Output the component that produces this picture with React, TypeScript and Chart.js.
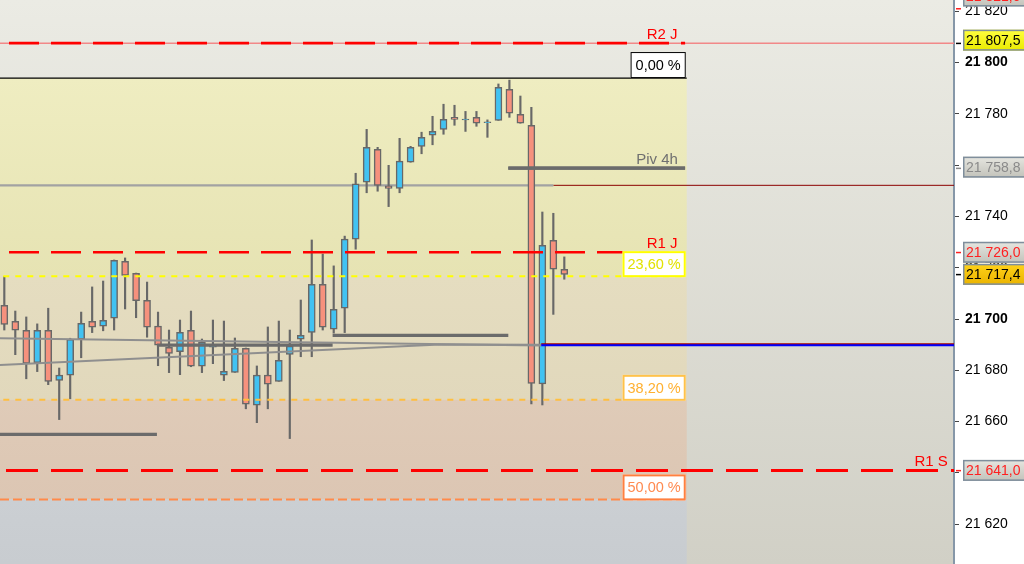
import React, { useEffect, useRef } from "react";
import { Chart, registerables } from "chart.js";

Chart.register(...registerables);

// ---------------- data ----------------
const opens = [21705.3, 21699.1, 21695.6, 21683.0, 21695.6, 21676.1, 21678.1, 21692.1, 21699.1, 21697.2,
  21700.3, 21722.5, 21717.8, 21707.3, 21697.2, 21689.0, 21687.3, 21695.6, 21681.6, 21689.0,
  21678.1, 21679.2, 21688.6, 21666.4, 21678.1, 21675.7, 21686.2, 21692.1, 21694.8, 21713.5,
  21696.0, 21704.2, 21731.1, 21753.3, 21766.1, 21751.9, 21750.9, 21761.1, 21767.3, 21771.6,
  21773.9, 21778.6, 21777.6, 21778.6, 21776.5, 21777.4, 21789.5, 21779.8, 21775.5, 21674.7,
  21730.7, 21719.4];
const highs = [21716.5, 21703.1, 21700.8, 21698.1, 21704.2, 21680.9, 21692.5, 21702.7, 21712.5, 21714.8,
  21723.0, 21723.8, 21717.9, 21714.4, 21702.7, 21695.7, 21699.6, 21703.1, 21692.2, 21699.6,
  21699.2, 21692.6, 21688.7, 21681.7, 21696.9, 21699.2, 21695.7, 21707.4, 21730.8, 21725.3,
  21720.7, 21732.3, 21756.8, 21773.9, 21766.9, 21759.9, 21770.4, 21767.3, 21772.8, 21779.0,
  21783.7, 21783.3, 21780.9, 21780.9, 21777.6, 21791.6, 21793.1, 21786.9, 21782.5, 21741.7,
  21741.2, 21724.2];
const lows = [21695.7, 21686.1, 21676.7, 21679.5, 21674.4, 21660.8, 21668.9, 21684.9, 21694.7, 21695.4,
  21695.7, 21703.9, 21700.5, 21692.9, 21681.8, 21679.1, 21678.3, 21681.4, 21679.1, 21682.6,
  21676.0, 21679.2, 21665.0, 21659.6, 21665.0, 21675.7, 21653.4, 21685.3, 21685.3, 21695.7,
  21694.5, 21694.7, 21727.2, 21749.2, 21749.8, 21743.8, 21749.2, 21761.1, 21764.4, 21767.9,
  21772.0, 21775.5, 21773.1, 21775.1, 21770.8, 21777.4, 21778.6, 21776.3, 21666.9, 21666.5,
  21701.8, 21715.5];
const closes = [21697.9, 21695.6, 21682.7, 21695.6, 21675.7, 21678.1, 21692.1, 21698.3, 21696.8, 21699.5,
  21722.9, 21717.0, 21707.1, 21696.8, 21689.8, 21686.6, 21694.8, 21681.6, 21690.9, 21689.4,
  21679.6, 21688.6, 21666.8, 21678.1, 21674.6, 21683.9, 21689.4, 21693.6, 21713.5, 21696.8,
  21703.8, 21731.1, 21752.7, 21766.9, 21752.1, 21750.9, 21761.5, 21766.9, 21770.8, 21773.1,
  21777.8, 21777.8, 21777.9, 21776.3, 21776.8, 21790.3, 21780.2, 21776.3, 21674.9, 21728.7,
  21719.4, 21717.4];

const tickValues = [21620, 21640, 21660, 21680, 21700, 21720, 21740, 21760, 21780, 21800, 21820];

const fibValues = [21793.9, 21716.7, 21668.5, 21629.7];
const fibLabels = ["0,00 %", "23,60 %", "38,20 %", "50,00 %"];

const levelNames = ["R2 J", "R1 J", "R1 S", "Piv 4h"];
const levelValues = [21807.5, 21726.0, 21641.0, 21758.8];

const pivotStarts = [-0.392, 13.9, 29.9, 45.9];
const pivotEnds = [13.9, 29.9, 45.9, 62.0];
const pivotValues = [21655.0, 21689.8, 21693.6, 21758.8];

const trendAIdx = [-0.392, 48.9];
const trendAVals = [21692.5, 21689.7];
const trendBIdx = [-0.392, 39.7, 48.9];
const trendBVals = [21682.1, 21690.1, 21690.0];

const grayLevel = 21752.1;
const grayLevelEndIdx = 50.0;
const blueLevel = 21689.85;
const blueStartIdx = 48.9;

const priceTagValues = [21821.0, 21807.5, 21758.8, 21726.0, 21717.4, 21641.0];
const priceTagTexts = ["21 821,0", "21 807,5", "21 758,8", "21 726,0", "21 717,4", "21 641,0"];

// ---------------- layout / style ----------------
const X_MIN = -0.392;
const X_MAX = 86.49;
const Y_MIN = 21604.52;
const Y_MAX = 21824.32;
const FIB_END = 62.15;
const LEVEL_LINE_END = [62.0, 62.0, X_MAX, 62.0];
const LEVEL_LABEL_RIGHT = [61.31, 61.31, 85.92, 61.35];
const LEVEL_LABEL_COLORS = ["#ff0000", "#ff0000", "#ff0000", "#707070"];
const FIB_LINE_COLORS = ["#000000", "#ffff00", "#ffbf3f", "#ff8a4a"];
const FIB_TEXT_COLORS = ["#000000", "#e2e200", "#ffb030", "#ff8a50"];
const FIB_BORDER_COLORS = ["#000000", "#ffff00", "#ffc24a", "#ff8040"];
const TAG_TEXT_COLORS = ["#ff2020", "#000000", "#8a8a8a", "#ff2020", "#000000", "#ff2020"];
const TAG_FILLS = [
  ["#e6e6e0", "#c2c2ba"],
  ["#ffff40", "#eaea00"],
  ["#e6e6e0", "#c2c2ba"],
  ["#e6e6e0", "#c2c2ba"],
  ["#ffd21a", "#eab300"],
  ["#e6e6e0", "#c2c2ba"],
];
const TAG_OFFSETS = [-12.5, -3, -1, 0, 0, 0];
const FONT = '"Liberation Sans", Arial, sans-serif';
const BULL = "#41c2f2";
const BEAR = "#f6917d";
const OUTLINE = "#686868";

const fmtTick = (v: number) => {
  const t = Math.floor(v / 1000);
  const r = Math.round(v - t * 1000);
  return `${t} ${String(r).padStart(3, "0")}`;
};

const pts = (xa: number[], ya: number[]) => xa.map((x, i) => ({ x, y: ya[i] }));

const lineDs = (label: string, data: any[], color: string, width: number, order: number, dash?: number[], dashOffset?: number) => ({
  type: "line" as const,
  label,
  data,
  borderColor: color,
  backgroundColor: color,
  borderWidth: width,
  borderDash: dash || [],
  borderDashOffset: dashOffset || 0,
  pointRadius: 0,
  pointHoverRadius: 0,
  fill: false,
  tension: 0,
  spanGaps: false,
  order,
});

const backgroundPlugin = {
  id: "bgZones",
  beforeDraw(chart: any) {
    const { ctx, chartArea: ca, scales } = chart;
    const ys = scales.y;
    const xs = scales.x;
    ctx.save();
    ctx.fillStyle = "#ffffff";
    ctx.fillRect(0, 0, chart.width, chart.height);
    const g = ctx.createLinearGradient(0, ca.top, 0, ca.bottom);
    g.addColorStop(0, "#ebebe4");
    g.addColorStop(1, "#d1d0c6");
    ctx.fillStyle = g;
    ctx.fillRect(ca.left, ca.top, ca.right - ca.left, ca.bottom - ca.top);
    const xr = xs.getPixelForValue(FIB_END);
    const yF = fibValues.map((v) => ys.getPixelForValue(v));
    const bands = [
      [yF[0], yF[1], "#efedc1", "#e6e3b3"],
      [yF[1], yF[2], "#e5ddc0", "#e1d8bc"],
      [yF[2], yF[3], "#dfcbb8", "#dcc6b3"],
      [yF[3], ca.bottom, "#cbcfd3", "#c8ccd0"],
    ] as any[];
    for (const [a, b, c1, c2] of bands) {
      const gg = ctx.createLinearGradient(0, a, 0, b);
      gg.addColorStop(0, c1);
      gg.addColorStop(1, c2);
      ctx.fillStyle = gg;
      ctx.fillRect(ca.left, a, xr - ca.left, b - a);
    }
    ctx.restore();
  },
};

const labelPlugin = {
  id: "levelLabels",
  afterDatasetsDraw(chart: any) {
    const { ctx, scales } = chart;
    const xs = scales.x;
    const ys = scales.y;
    ctx.save();
    ctx.font = `15px ${FONT}`;
    ctx.textAlign = "right";
    ctx.textBaseline = "alphabetic";
    levelNames.forEach((name, k) => {
      ctx.fillStyle = LEVEL_LABEL_COLORS[k];
      ctx.fillText(name, xs.getPixelForValue(LEVEL_LABEL_RIGHT[k]), ys.getPixelForValue(levelValues[k]) - 4);
    });
    const xr = xs.getPixelForValue(FIB_END) - 1;
    ctx.font = `14.5px ${FONT}`;
    fibLabels.forEach((txt, k) => {
      const y = ys.getPixelForValue(fibValues[k]);
      const w = ctx.measureText(txt).width + 10;
      const h = 26;
      const bw = k === 0 ? 1 : 2;
      const top = y - h + (k === 0 ? 0 : 1);
      ctx.fillStyle = "#ffffff";
      ctx.fillRect(xr - w, top, w, h);
      ctx.strokeStyle = FIB_BORDER_COLORS[k];
      ctx.lineWidth = bw;
      ctx.strokeRect(xr - w + bw / 2, top + bw / 2, w - bw, h - bw);
      ctx.fillStyle = FIB_TEXT_COLORS[k];
      ctx.textAlign = "left";
      ctx.textBaseline = "middle";
      ctx.fillText(txt, xr - w + 5, top + h / 2 + 1);
    });
    ctx.restore();
  },
  afterDraw(chart: any) {
    const { ctx, scales, chartArea: ca } = chart;
    const ys = scales.y;
    ctx.save();
    ctx.font = `14px ${FONT}`;
    ctx.textBaseline = "middle";
    ctx.textAlign = "left";
    priceTagValues.forEach((v, k) => {
      const yc = ys.getPixelForValue(v) + TAG_OFFSETS[k];
      const top = yc - 10.5;
      const left = ca.right + 9;
      const g = ctx.createLinearGradient(0, top, 0, top + 21);
      g.addColorStop(0, TAG_FILLS[k][0]);
      g.addColorStop(1, TAG_FILLS[k][1]);
      ctx.fillStyle = g;
      ctx.fillRect(left, top, chart.width - left + 2, 21);
      ctx.strokeStyle = "#7f8e9c";
      ctx.lineWidth = 1.5;
      ctx.strokeRect(left + 0.75, top + 0.75, chart.width - left + 4, 19.5);
      ctx.fillStyle = TAG_TEXT_COLORS[k];
      ctx.fillText(priceTagTexts[k], left + 3, yc + 1);
      ctx.fillRect(ca.right + 2, ys.getPixelForValue(v) - 0.5, 5, 1.5);
    });
    ctx.restore();
  },
};

export default function App() {
  const ref = useRef<HTMLCanvasElement | null>(null);

  useEffect(() => {
    if (!ref.current) return;
    Chart.defaults.font.family = FONT;

    const idx = opens.map((_, i) => i);
    const wickData = idx.map((i) => ({ x: i, y: [lows[i], highs[i]] }));
    const bodyData = idx.map((i) => ({ x: i, y: [opens[i], closes[i]] }));
    const bodyColors = idx.map((i) => (closes[i] >= opens[i] ? BULL : BEAR));

    const pivotData: any[] = [];
    pivotValues.forEach((v, k) => {
      pivotData.push({ x: pivotStarts[k], y: v }, { x: pivotEnds[k], y: v }, { x: pivotEnds[k], y: null });
    });

    const datasets: any[] = [
      lineDs("gray level", pts([X_MIN, grayLevelEndIdx], [grayLevel, grayLevel]), "#a2a2a2", 2.2, 30),
      lineDs("gray level ext", pts([grayLevelEndIdx, X_MAX], [grayLevel, grayLevel]), "#8b0000", 1, 30),
      {
        type: "bar",
        label: "wicks",
        data: wickData,
        backgroundColor: OUTLINE,
        borderWidth: 0,
        barThickness: 1.5,
        grouped: false,
        order: 25,
      },
      {
        type: "bar",
        label: "bodies",
        data: bodyData,
        backgroundColor: bodyColors,
        borderColor: OUTLINE,
        borderWidth: 1.5,
        borderSkipped: false,
        barThickness: 7,
        grouped: false,
        order: 24,
      },
      lineDs("trend A", pts(trendAIdx, trendAVals), "#8f8f8f", 2, 20),
      lineDs("trend B", pts(trendBIdx, trendBVals), "#8f8f8f", 2, 20),
      lineDs("pivots", pivotData, "#6b6b6b", 3.2, 18),
      lineDs("blue", pts([blueStartIdx, X_MAX], [blueLevel, blueLevel]), "#0000ff", 2.2, 17),
      lineDs("blue top", pts([blueStartIdx, X_MAX], [blueLevel + 0.5, blueLevel + 0.5]), "#a00000", 1, 16),
      lineDs("R2 thin", pts([X_MIN, X_MAX], [levelValues[0], levelValues[0]]), "#f28888", 1.5, 15),
      lineDs("fib 0", pts([X_MIN, FIB_END], [fibValues[0], fibValues[0]]), FIB_LINE_COLORS[0], 1.2, 14),
      lineDs("fib 23.6", pts([X_MIN, FIB_END], [fibValues[1], fibValues[1]]), FIB_LINE_COLORS[1], 2, 14, [6, 6], 8.7),
      lineDs("fib 38.2", pts([X_MIN, FIB_END], [fibValues[2], fibValues[2]]), FIB_LINE_COLORS[2], 2, 14, [6, 6], 8.7),
      lineDs("fib 50", pts([X_MIN, FIB_END], [fibValues[3], fibValues[3]]), FIB_LINE_COLORS[3], 2, 14, [9, 4], 0),
      lineDs("R2 J", pts([X_MIN, LEVEL_LINE_END[0]], [levelValues[0], levelValues[0]]), "#ff0000", 2.6, 12, [30, 12], 33),
      lineDs("R1 J", pts([X_MIN, LEVEL_LINE_END[1]], [levelValues[1], levelValues[1]]), "#ff0000", 2.6, 12, [30, 12], 33),
      lineDs("R1 S", pts([X_MIN, LEVEL_LINE_END[2]], [levelValues[2], levelValues[2]]), "#ff0000", 3, 12, [32, 13], 39),
      lineDs("Piv 4h", pts([45.9, LEVEL_LINE_END[3]], [levelValues[3], levelValues[3]]), "#6b6b6b", 3.2, 12),
    ];

    const chart = new Chart(ref.current, {
      type: "bar",
      data: { datasets },
      options: {
        animation: false,
        responsive: false,
        maintainAspectRatio: false,
        devicePixelRatio: 1,
        layout: { padding: 0 },
        plugins: { legend: { display: false }, tooltip: { enabled: false } },
        scales: {
          x: {
            type: "linear",
            min: X_MIN,
            max: X_MAX,
            display: false,
            offset: false,
          },
          y: {
            type: "linear",
            position: "right",
            min: Y_MIN,
            max: Y_MAX,
            afterFit: (scale: any) => {
              scale.width = 70;
              scale.paddingTop = 0;
              scale.paddingBottom = 0;
            },
            afterBuildTicks: (scale: any) => {
              scale.ticks = tickValues.map((v) => ({ value: v }));
            },
            grid: {
              display: true,
              drawOnChartArea: false,
              drawTicks: true,
              tickLength: 5,
              color: "#444444",
            },
            border: { display: true, color: "#8697a8", width: 2 },
            ticks: {
              padding: 6,
              color: "#000000",
              autoSkip: false,
              callback: (v: any) => fmtTick(Number(v)),
              font: (ctx: any) => ({
                family: FONT,
                size: 14,
                weight: ctx.tick && ctx.tick.value % 100 === 0 ? "bold" : "normal",
              }),
            },
          },
        },
      } as any,
      plugins: [backgroundPlugin, labelPlugin],
    });

    return () => chart.destroy();
  }, []);

  return (
    <div style={{ position: "fixed", left: 0, top: 0, width: 1024, height: 564, background: "#fff" }}>
      <canvas ref={ref} width={1024} height={564} style={{ display: "block" }} />
    </div>
  );
}
